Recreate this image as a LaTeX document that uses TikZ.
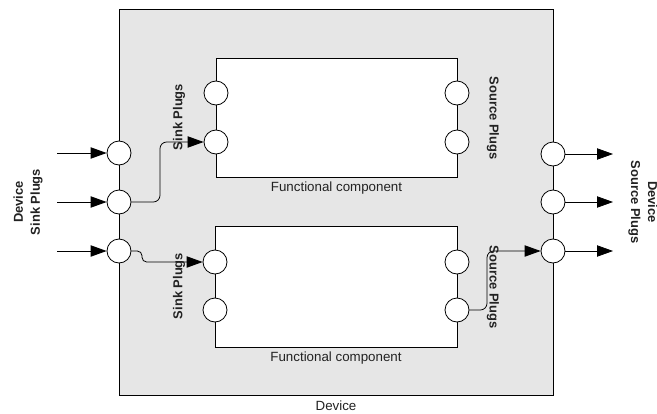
\documentclass[tikz,border=0pt]{standalone}
\usepackage{fontspec}
\setmainfont{Liberation Sans}
\usetikzlibrary{arrows.meta}

\definecolor{devgray}{HTML}{E6E6E6}
\definecolor{textgray}{HTML}{222222}

\tikzset{
    plug/.style={draw,circle,fill=white,minimum size=18pt,inner sep=0pt},
    box/.style={draw,rectangle,anchor=center},
    wire/.style={-{Triangle[length=12pt,width=8.5pt]},rounded corners=5pt},
    plugtext/.style={font=\fontsize{9.7}{12.7}\selectfont\bfseries,text=textgray,align=center},
    boxtext/.style={font=\fontsize{10}{12}\selectfont,text=textgray}
}

\begin{document}
\begin{tikzpicture}[x=0.75pt,y=-0.75pt,line width=0.6pt]
        \useasboundingbox (0,0) rectangle (657,414);

        % device and its components
        \node[box,fill=devgray,minimum width=325.5pt,minimum height=289.5pt] (dev) at (336,202) {};
        \node[boxtext] (devlabel) at (336,406) {Device};

        \node[box,fill=white,minimum width=180.75pt,minimum height=89.25pt] (fc1) at (336.5,117.5) {};
        \node[boxtext] (fc1label) at (336.5,188) {Functional component};

        \node[box,fill=white,minimum width=181.5pt,minimum height=90.75pt] (fc2) at (336,286.5) {};
        \node[boxtext] (fc2label) at (336,358) {Functional component};

        % device plugs
        \node[plug] (dsink1) at (119,153) {};
        \node[plug] (dsink2) at (119,202) {};
        \node[plug] (dsink3) at (119,251) {};
        \node[plug] (dsrc1) at (553,154) {};
        \node[plug] (dsrc2) at (553,202) {};
        \node[plug] (dsrc3) at (553,251) {};

        % component plugs
        \node[plug] (fc1sink1) at (216,93) {};
        \node[plug] (fc1sink2) at (216,142) {};
        \node[plug] (fc1src1) at (457,93) {};
        \node[plug] (fc1src2) at (457,142) {};
        \node[plug] (fc2sink1) at (215,262) {};
        \node[plug] (fc2sink2) at (215,310) {};
        \node[plug] (fc2src1) at (457,262) {};
        \node[plug] (fc2src2) at (457,310) {};

        % outside ends
        \coordinate (in1) at (57,153);
        \coordinate (in2) at (57,202);
        \coordinate (in3) at (57,251);
        \coordinate (out1) at (613,154);
        \coordinate (out2) at (613,202);
        \coordinate (out3) at (613,251);

        \draw[wire] (in1) -- (dsink1);
        \draw[wire] (in2) -- (dsink2);
        \draw[wire] (in3) -- (dsink3);
        \draw[wire] (dsrc1) -- (out1);
        \draw[wire] (dsrc2) -- (out2);
        \draw[wire] (dsrc3) -- (out3);

        \draw[wire] (dsink2.east) -- (160,202) -- (160,142) -- (fc1sink2.west);
        \draw[wire,rounded corners=3.5pt] (dsink3.east) -- (142,251) -- (142,262) -- (fc2sink1.west);
        \draw[wire] (fc2src2.east) -- (487,310) -- (487,251) -- (dsrc3.west);

        % plug labels
        \node[plugtext,rotate=90] (fc1sinklabel) at (179,117) {Sink Plugs};
        \node[plugtext,rotate=90] (fc2sinklabel) at (179,286) {Sink Plugs};
        \node[plugtext,rotate=-90] (fc1srclabel) at (493,118) {Source Plugs};
        \node[plugtext,rotate=-90] (fc2srclabel) at (493,287) {Source Plugs};
        \node[plugtext,rotate=90] (dsinklabel) at (28,202) {Device\\Sink Plugs};
        \node[plugtext,rotate=-90] (dsrclabel) at (643,202) {Device\\Source Plugs};
    \end{tikzpicture}
\end{document}
